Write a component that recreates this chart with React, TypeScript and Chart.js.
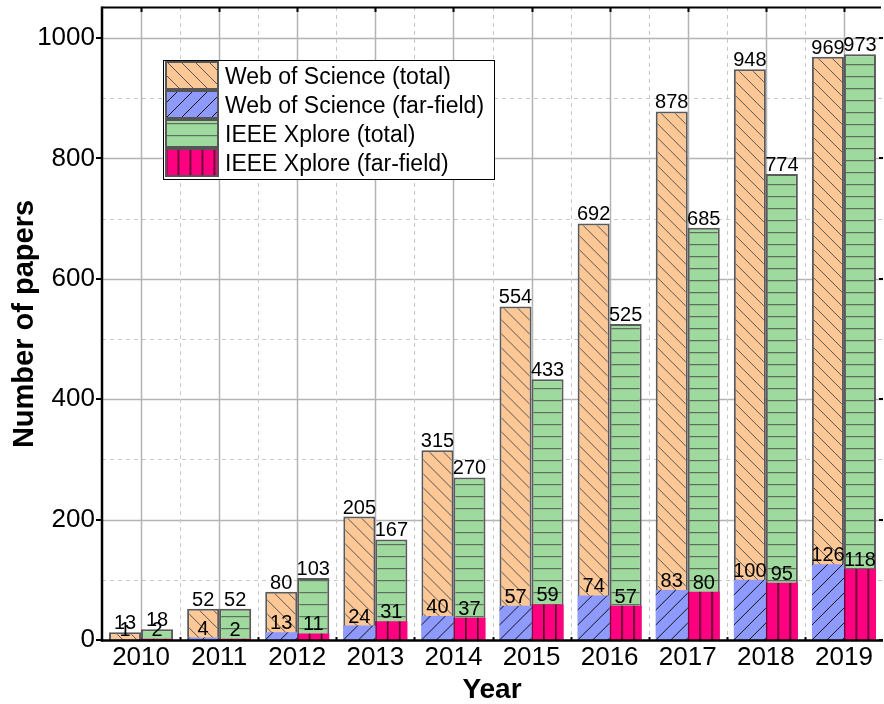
import React, { useEffect, useRef } from "react";
import { Chart, registerables } from "chart.js";

Chart.register(...registerables);

const years = ["2010", "2011", "2012", "2013", "2014", "2015", "2016", "2017", "2018", "2019"];
const wosTotal = [13, 52, 80, 205, 315, 554, 692, 878, 948, 969];
const wosFar = [1, 4, 13, 24, 40, 57, 74, 83, 100, 126];
const ieeeTotal = [18, 52, 103, 167, 270, 433, 525, 685, 774, 973];
const ieeeFar = [2, 2, 11, 31, 37, 59, 57, 80, 95, 118];
const seriesNames = [
  "Web of Science (total)",
  "Web of Science (far-field)",
  "IEEE Xplore (total)",
  "IEEE Xplore (far-field)",
];
const yMajorTicks = [0, 200, 400, 600, 800, 1000];

const W = 884;
const H = 704;
const FONT = "'Liberation Sans', Arial, Helvetica, sans-serif";

type Kind = "bslash" | "slash" | "horiz" | "vert";

function makeTile(kind: Kind): HTMLCanvasElement {
  const c = document.createElement("canvas");
  let w = 14, h = 14;
  if (kind === "slash") { w = 15; h = 15; }
  if (kind === "horiz") { w = 4; h = 12; }
  if (kind === "vert") { w = 12; h = 4; }
  c.width = w; c.height = h;
  const g = c.getContext("2d")!;
  if (kind === "bslash") {
    g.fillStyle = "#fdc896"; g.fillRect(0, 0, w, h);
    g.strokeStyle = "#555555"; g.lineWidth = 1;
    g.beginPath();
    g.moveTo(-1, -1); g.lineTo(w + 1, h + 1);
    g.moveTo(-w - 1, -1); g.lineTo(1, h + 1);
    g.moveTo(w - 1, -h - 1); g.lineTo(2 * w + 1, h + 1);
    g.stroke();
  } else if (kind === "slash") {
    g.fillStyle = "#8e9afd"; g.fillRect(0, 0, w, h);
    g.strokeStyle = "#111111"; g.lineWidth = 1;
    g.beginPath();
    g.moveTo(-1, h + 1); g.lineTo(w + 1, -1);
    g.moveTo(-w - 1, h + 1); g.lineTo(1, -1);
    g.moveTo(w - 1, h + 1); g.lineTo(2 * w + 1, -1);
    g.stroke();
  } else if (kind === "horiz") {
    g.fillStyle = "#9ed99e"; g.fillRect(0, 0, w, h);
    g.fillStyle = "#5f6f5f"; g.fillRect(0, 0, w, 1.2);
  } else {
    g.fillStyle = "#ff0080"; g.fillRect(0, 0, w, h);
    g.fillStyle = "#4a0026"; g.fillRect(0, 0, 1.6, h);
  }
  return c;
}

export default function App() {
  const ref = useRef<HTMLCanvasElement | null>(null);

  useEffect(() => {
    const canvas = ref.current!;
    const tiles: Record<Kind, HTMLCanvasElement> = {
      bslash: makeTile("bslash"),
      slash: makeTile("slash"),
      horiz: makeTile("horiz"),
      vert: makeTile("vert"),
    };
    const kinds: Kind[] = ["slash", "vert", "bslash", "horiz"]; // dataset order

    const patternPlugin = {
      id: "patternFill",
      beforeDatasetsDraw(chart: any) {
        const ctx = chart.ctx;
        chart.data.datasets.forEach((_: any, di: number) => {
          const meta = chart.getDatasetMeta(di);
          const kind = kinds[di];
          meta.data.forEach((el: any) => {
            const p = ctx.createPattern(tiles[kind], "repeat");
            const left = el.x - el.width / 2;
            const tx = kind === "vert" ? left + 11.5 : left;
            p.setTransform(new DOMMatrix([1, 0, 0, 1, tx, el.base]));
            el.options = Object.assign({}, el.options, { backgroundColor: p });
          });
        });
      },
    };

    const gridPlugin = {
      id: "gridFrame",
      beforeDatasetsDraw(chart: any) {
        const { ctx, chartArea: a, scales } = chart;
        const y = scales.y, x = scales.x;
        ctx.save();
        for (let v = 100; v <= 1000; v += 100) {
          const py = Math.round(y.getPixelForValue(v)) + 0.5;
          ctx.beginPath();
          if (v % 200 === 0) {
            ctx.setLineDash([]); ctx.strokeStyle = "#b4b4b4"; ctx.lineWidth = 1.5;
          } else {
            ctx.setLineDash([4, 4]); ctx.strokeStyle = "#c8c8c8"; ctx.lineWidth = 1;
          }
          ctx.moveTo(a.left, py); ctx.lineTo(a.right, py); ctx.stroke();
        }
        const step = x.getPixelForValue(1) - x.getPixelForValue(0);
        for (let i = 0; i < years.length; i++) {
          const cx = Math.round(x.getPixelForValue(i)) + 0.5;
          ctx.setLineDash([]); ctx.strokeStyle = "#b4b4b4"; ctx.lineWidth = 1.5;
          ctx.beginPath(); ctx.moveTo(cx, a.top); ctx.lineTo(cx, a.bottom); ctx.stroke();
          if (i > 0) {
            const bx = Math.round(x.getPixelForValue(i) - step / 2) + 0.5;
            ctx.setLineDash([4, 4]); ctx.strokeStyle = "#c8c8c8"; ctx.lineWidth = 1;
            ctx.beginPath(); ctx.moveTo(bx, a.top); ctx.lineTo(bx, a.bottom); ctx.stroke();
          }
        }
        ctx.restore();
      },
      afterDatasetsDraw(chart: any) {
        const { ctx, chartArea: a, scales } = chart;
        const y = scales.y, x = scales.x;
        ctx.save();
        ctx.setLineDash([]);
        ctx.strokeStyle = "#000";
        ctx.lineWidth = 2;
        ctx.beginPath(); ctx.moveTo(a.left, a.top + 0.5); ctx.lineTo(a.right - 2, a.top + 0.5); ctx.stroke();
        ctx.lineWidth = 2.5;
        ctx.beginPath(); ctx.moveTo(a.left, a.top - 0.5); ctx.lineTo(a.left, a.bottom + 1.5); ctx.stroke();
        ctx.beginPath(); ctx.moveTo(a.left - 1, a.bottom + 0.5); ctx.lineTo(a.right, a.bottom + 0.5); ctx.stroke();
        ctx.lineWidth = 2;
        for (const v of yMajorTicks) {
          const py = Math.round(y.getPixelForValue(v));
          ctx.beginPath(); ctx.moveTo(a.left - 6, py); ctx.lineTo(a.left, py); ctx.stroke();
          ctx.beginPath(); ctx.moveTo(a.right - 4, py); ctx.lineTo(a.right, py); ctx.stroke();
        }
        const step = x.getPixelForValue(1) - x.getPixelForValue(0);
        for (let i = 0; i < years.length; i++) {
          const cx = Math.round(x.getPixelForValue(i)) + 0.5;
          ctx.beginPath(); ctx.moveTo(cx, a.top); ctx.lineTo(cx, a.top + 5); ctx.stroke();
          if (i > 0) {
            const bx = Math.round(x.getPixelForValue(i) - step / 2) + 0.5;
            ctx.beginPath(); ctx.moveTo(bx, a.bottom); ctx.lineTo(bx, a.bottom - 3); ctx.stroke();
          }
        }
        ctx.fillStyle = "#000";
        ctx.font = `20px ${FONT}`;
        ctx.textAlign = "center";
        ctx.textBaseline = "alphabetic";
        const order = [2, 3, 0, 1];
        for (const di of order) {
          const meta = chart.getDatasetMeta(di);
          const vals = chart.data.datasets[di].data as number[];
          meta.data.forEach((el: any, i: number) => {
            ctx.fillText(String(vals[i]), el.x, el.y - 3);
          });
        }
        ctx.restore();
      },
      afterDraw(chart: any) {
        const ctx = chart.ctx;
        ctx.save();
        ctx.fillStyle = "#000";
        ctx.font = `bold 28px ${FONT}`;
        ctx.textAlign = "center";
        ctx.textBaseline = "alphabetic";
        ctx.fillText("Year", 492, 698);
        ctx.save();
        ctx.translate(33, 324);
        ctx.rotate(-Math.PI / 2);
        ctx.font = `bold 29px ${FONT}`;
        ctx.fillText("Number of papers", 0, 0);
        ctx.restore();
        const bx = 163.5, by = 60.5, bw = 331, bh = 119;
        ctx.fillStyle = "#fff";
        ctx.fillRect(bx, by, bw, bh);
        ctx.strokeStyle = "#000"; ctx.lineWidth = 1;
        ctx.strokeRect(bx, by, bw, bh);
        const legendKinds: Kind[] = ["bslash", "slash", "horiz", "vert"];
        const rowTop = [62, 91, 120, 149];
        for (let r = 0; r < 4; r++) {
          const sx = 166, sy = rowTop[r], sw = 52, sh = 27;
          const p = ctx.createPattern(tiles[legendKinds[r]], "repeat")!;
          const tx = legendKinds[r] === "vert" ? sx + 11.5 : sx;
          p.setTransform(new DOMMatrix([1, 0, 0, 1, tx, sy + sh]));
          ctx.fillStyle = p;
          ctx.fillRect(sx, sy, sw, sh);
          ctx.strokeStyle = "#555"; ctx.lineWidth = 2;
          ctx.strokeRect(sx, sy, sw, sh);
          ctx.fillStyle = "#000";
          ctx.font = `23px ${FONT}`;
          ctx.textAlign = "left";
          ctx.fillText(seriesNames[r], 225, sy + sh / 2 + 8);
        }
        ctx.restore();
      },
    };

    const chart = new Chart(canvas, {
      type: "bar",
      data: {
        labels: years,
        datasets: [
          { label: seriesNames[1], data: wosFar, stack: "wos", borderWidth: 0, backgroundColor: "#8e9afd" },
          { label: seriesNames[3], data: ieeeFar, stack: "ieee", borderWidth: 0, backgroundColor: "#ff0080" },
          { label: seriesNames[0], data: wosTotal, stack: "wos", borderWidth: 2, borderColor: "#5a5a5a", backgroundColor: "#fdc896" },
          { label: seriesNames[2], data: ieeeTotal, stack: "ieee", borderWidth: 2, borderColor: "#5a5a5a", backgroundColor: "#9ed99e" },
        ],
      },
      options: {
        responsive: false,
        animation: false,
        devicePixelRatio: 1,
        layout: { padding: { top: 7, right: 1, left: 0, bottom: 0 } },
        datasets: { bar: { categoryPercentage: 0.82, barPercentage: 1.0 } },
        plugins: { legend: { display: false }, tooltip: { enabled: false } },
        scales: {
          x: {
            offset: true,
            grid: { display: false, drawTicks: false },
            border: { display: false },
            ticks: { color: "#000", font: { family: FONT, size: 26 }, padding: 2, maxRotation: 0, autoSkip: false },
            afterFit: (s: any) => { s.height = 64; s.paddingLeft = 0; s.paddingRight = 0; },
          },
          y: {
            stacked: false,
            min: 0,
            max: 1051.5,
            grid: { display: false, drawTicks: false },
            border: { display: false },
            ticks: {
              stepSize: 100,
              autoSkip: false,
              color: "#000",
              padding: 7,
              font: { family: FONT, size: 26 },
              callback: (v: any) => (Number(v) % 200 === 0 ? String(v) : ""),
            },
            afterFit: (s: any) => { s.width = 102; s.paddingTop = 0; s.paddingBottom = 0; },
          },
        },
      },
      plugins: [patternPlugin, gridPlugin],
    } as any);

    return () => chart.destroy();
  }, []);

  return (
    <div style={{ position: "absolute", left: 0, top: 0, width: W, height: H, background: "#fff" }}>
      <canvas ref={ref} width={W} height={H} style={{ display: "block", width: W, height: H }} />
    </div>
  );
}
